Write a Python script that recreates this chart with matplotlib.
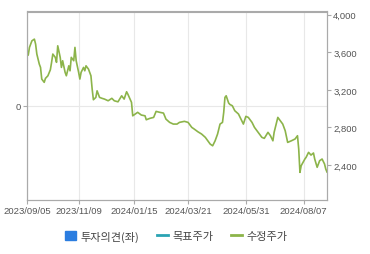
import matplotlib
matplotlib.use('Agg')
import matplotlib.pyplot as plt
import matplotlib.patches as mpatches
from matplotlib.lines import Line2D
from matplotlib.ticker import FuncFormatter

# trading-day index of each sampled point and the adjusted price there
day_idx = [0, 1, 2, 4, 6, 7, 8, 10, 11, 12, 14, 15, 17, 19, 20, 21, 23, 24, 25, 27,
           28, 29, 31, 32, 34, 35, 36, 38, 39, 40, 42, 43, 44, 46, 47, 48, 50, 52, 53, 54,
           56, 57, 59, 61, 63, 66, 69, 71, 74, 77, 79, 81, 82, 85, 86, 88, 90, 93, 96, 97,
           100, 103, 105, 108, 111, 113, 116, 119, 122, 124, 128, 131, 134, 136, 139, 142, 145, 147, 149, 151,
           153, 155, 157, 159, 160, 161, 162, 164, 165, 167, 169, 172, 174, 176, 178, 180, 183, 185, 188, 191,
           193, 196, 198, 200, 201, 204, 206, 208, 210, 212, 215, 218, 220, 221, 222, 223, 226, 227, 229, 231,
           233, 234, 236, 238, 240, 242, 243, 244]
price = [3563, 3570, 3652, 3722, 3740, 3687, 3581, 3474, 3439, 3315, 3280, 3322, 3350, 3414, 3493, 3581, 3546, 3493, 3669, 3546,
         3439, 3510, 3386, 3350, 3456, 3403, 3546, 3510, 3652, 3510, 3386, 3315, 3386, 3439, 3403, 3456, 3421, 3350, 3208, 3095,
         3120, 3190, 3120, 3110, 3102, 3084, 3110, 3084, 3073, 3137, 3102, 3180, 3155, 3067, 2924, 2943, 2961, 2932, 2924, 2882,
         2897, 2907, 2971, 2961, 2953, 2889, 2854, 2836, 2836, 2854, 2865, 2854, 2801, 2783, 2754, 2730, 2695, 2658, 2623, 2605,
         2658, 2730, 2836, 2854, 2961, 3120, 3137, 3060, 3045, 3031, 2978, 2943, 2889, 2836, 2918, 2907, 2854, 2801, 2748, 2695,
         2684, 2748, 2712, 2658, 2748, 2907, 2871, 2836, 2765, 2641, 2658, 2677, 2712, 2570, 2322, 2393, 2464, 2482, 2535, 2506,
         2528, 2464, 2376, 2446, 2464, 2411, 2357, 2326]

tick_idx = [0, 42, 87, 131, 178, 225]
tick_labels = ['2023/09/05', '2023/11/09', '2024/01/15', '2024/03/21', '2024/05/31', '2024/08/07']
price_ticks = [2400, 2800, 3200, 3600, 4000]

GREEN = '#8cb44a'
BLUE = '#2b7de0'
TEAL = '#2aa3b3'
SPINE = '#aaaaaa'
GRID = '#e8e8e8'
TXT = '#555555'

plt.rcParams['font.family'] = ['Liberation Sans', 'Noto Sans CJK KR', 'DejaVu Sans']

fig = plt.figure(figsize=(3.7, 2.55), dpi=100)
ax = fig.add_axes([27 / 370, 1 - 201 / 255, 300 / 370, 188.5 / 255])
ax2 = ax.twinx()

ax.set_xlim(0, 244)
ax.set_ylim(-1, 1)
ax.set_yticks([0])
ax.set_xticks(tick_idx)
ax.set_xticklabels(tick_labels)
ax.grid(True, color=GRID, linewidth=0.8)
ax.set_axisbelow(True)

ax2.plot(day_idx, price, color=GREEN, linewidth=1.2)
ax2.set_ylim(2028, 4034)
ax2.set_yticks(price_ticks)
ax2.yaxis.set_major_formatter(FuncFormatter(lambda v, p: '{:,.0f}'.format(v)))

for a in (ax, ax2):
    for s in a.spines.values():
        s.set_color(SPINE)
        s.set_linewidth(0.8)
    a.tick_params(colors=SPINE, labelcolor=TXT, labelsize=6.8, length=3, width=0.8, pad=1.5)

handles = [mpatches.Patch(facecolor=BLUE, edgecolor=BLUE),
           Line2D([], [], color=TEAL, linewidth=2),
           Line2D([], [], color=GREEN, linewidth=2)]
labels = ['투자의견(좌)', '목표주가', '수정주가']
fig.legend(handles, labels, loc='center', bbox_to_anchor=(176 / 370, 1 - 237 / 255), ncol=3,
           frameon=False, prop={'family': ['Noto Sans CJK KR', 'DejaVu Sans'], 'size': 8},
           handlelength=1.0, handleheight=0.9, handletextpad=0.4, columnspacing=1.6, labelcolor='#444444')

fig.savefig('out.png', dpi=100)
